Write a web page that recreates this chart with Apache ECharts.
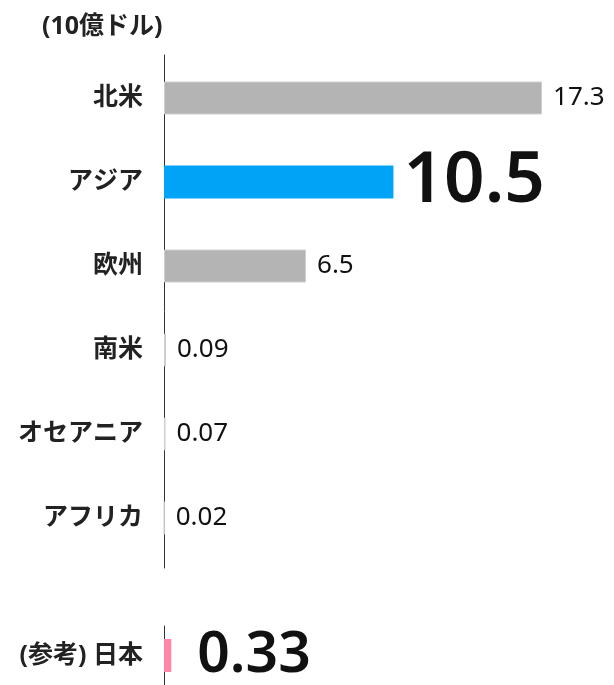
<!DOCTYPE html>
<html lang="ja">
<head>
  <meta charset="utf-8" />
  <script src="https://cdn.jsdelivr.net/npm/echarts@6/dist/echarts.min.js"></script>
</head>
<body style="margin:0; background:#fff">
  <div id="container" style="width:614px; height:685px;"></div>
  <script type="text/javascript">
    // データ（単位：10億ドル）
    var regions = ['北米', 'アジア', '欧州', '南米', 'オセアニア', 'アフリカ'];
    var values = [17.3, 10.5, 6.5, 0.09, 0.07, 0.02];
    var refName = ['(参考) 日本'];
    var refValue = [0.33];
    var unitText = '(10億ドル)';

    var FONT = "'Noto Sans', 'Noto Sans CJK JP', sans-serif";
    var myChart = echarts.init(document.getElementById('container'), null, { renderer: 'canvas' });

    // 強調するカテゴリ
    var highlight = 'アジア';

    var mainData = regions.map(function (r, i) {
      var big = r === highlight;
      return {
        value: values[i],
        itemStyle: big ? { color: '#00a3f5', borderWidth: 0 } : { color: '#b4b4b4', borderColor: '#cfcfcf', borderWidth: 1 },
        label: big ? { fontSize: 71, fontWeight: 600, distance: 10 } : {}
      };
    });

    var catLabel = { margin: 21, fontFamily: FONT, fontSize: 25, fontWeight: 'bold', color: '#222' };

    var option = {
      animation: false,
      title: {
        text: unitText,
        left: 37,
        top: 9,
        textStyle: { fontFamily: FONT, fontSize: 25, fontWeight: 'bold', color: '#222' }
      },
      grid: [
        { left: 164, width: 437, top: 56, height: 504 },
        { left: 164, width: 437, top: 626, height: 72 },
        // 縦軸の線だけ（上下に少し長い）
        { left: 164, width: 437, top: 55, height: 513 }
      ],
      xAxis: [
        { gridIndex: 0, type: 'value', min: 0, max: 20, show: false },
        { gridIndex: 1, type: 'value', min: 0, max: 20, show: false },
        { gridIndex: 2, type: 'value', min: 0, max: 20, show: false }
      ],
      yAxis: [
        {
          gridIndex: 0, type: 'category', data: regions, inverse: true,
          axisLine: { show: false },
          axisTick: { show: false },
          axisLabel: catLabel
        },
        {
          gridIndex: 1, type: 'category', data: refName, inverse: true,
          axisLine: { lineStyle: { color: '#333', width: 1 } },
          axisTick: { show: false },
          axisLabel: catLabel
        },
        {
          gridIndex: 2, type: 'value', min: 0, max: 1,
          axisLine: { show: true, lineStyle: { color: '#333', width: 1 } },
          axisTick: { show: false },
          axisLabel: { show: false },
          splitLine: { show: false }
        }
      ],
      series: [
        {
          type: 'bar', xAxisIndex: 0, yAxisIndex: 0, barWidth: 33,
          data: mainData,
          label: {
            show: true, position: 'right', distance: 11,
            fontFamily: FONT, fontSize: 26, color: '#111'
          }
        },
        {
          type: 'bar', xAxisIndex: 1, yAxisIndex: 1, barWidth: 33,
          data: refValue,
          itemStyle: { color: '#ff85a8' },
          label: {
            show: true, position: 'right', distance: 26,
            fontFamily: FONT, fontSize: 57, fontWeight: 600, color: '#111'
          }
        }
      ]
    };

    myChart.setOption(option);
    window.addEventListener('resize', myChart.resize);
  </script>
</body>
</html>
